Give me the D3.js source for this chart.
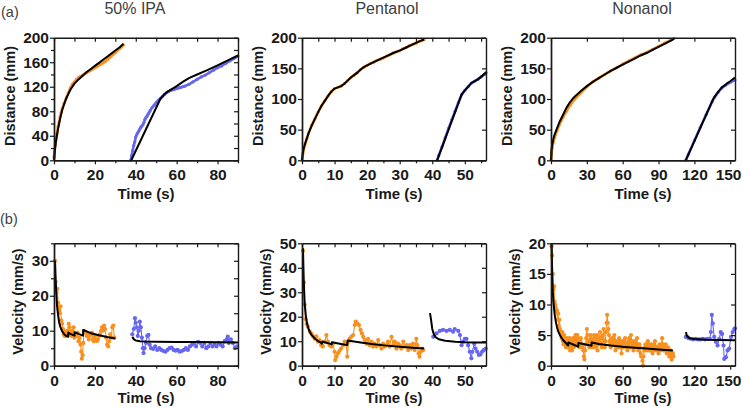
<!DOCTYPE html>
<html><head><meta charset="utf-8">
<script src="https://cdn.jsdelivr.net/npm/d3@7"></script>
<style>
body{margin:0;background:#fff}
svg{display:block}
text{font-family:"Liberation Sans",Arial,Helvetica,sans-serif}
</style>
</head><body>
<svg id="c" width="742" height="409"></svg>
<script>
// ---------- titles / labels ----------
const colTitles = ["50% IPA", "Pentanol", "Nonanol"];
const rowTags = ["(a)", "(b)"];
const xLabel = "Time (s)";
const yLabels = ["Distance (mm)", "Velocity (mm/s)"];

// ---------- axis domains and ticks ----------
const xDomains = [[0, 90], [0, 56.5], [0, 154]];
const xMajor = [[0, 20, 40, 60, 80], [0, 10, 20, 30, 40, 50], [0, 30, 60, 90, 120, 150]];
const xMinor = [[10, 30, 50, 70, 90], [5, 15, 25, 35, 45, 55], []];
const distDomain = [0, 200];
const distMajor = [[0, 40, 80, 120, 160, 200], [0, 50, 100, 150, 200], [0, 50, 100, 150, 200]];
const distMinor = [[20, 60, 100, 140, 180], [], []];
const velDomains = [[0, 35], [0, 50], [0, 20]];
const velMajor = [[0, 10, 20, 30], [0, 10, 20, 30, 40, 50], [0, 5, 10, 15, 20]];
const velMinor = [[5, 15, 25, 35], [], []];

// ---------- 50% IPA : distance ----------
const ipaDistOrange = [[0,5],[0.3,15],[0.6,25],[1,34],[1.5,44],[2,55],[2.5,63],[3,71],[3.5,78],[4,84],[5,93],[6,102],[7,110],[8,118],[9,124],[10,128],[11,132],[12,135],[13,137],[14,139],[15,141],[16,143],[17,145],[18,147],[19,149],[20,151],[21,153],[22,155],[23,157],[24,159],[25,161],[26,164],[27,167],[28,170],[29,173],[30,176],[31,179],[32,182],[33,185],[34,188]];
const ipaDistOrangeFit = [[0,0],[0.5,18],[1,32],[2,52],[3,68],[4,82],[5,92],[6,101],[8,115],[10,125],[12,132],[14,138],[16,144],[18,149],[20,154],[22,159],[24,164],[26,169],[28,174],[30,179],[32,184],[34,190]];
const ipaDistBlue = [[37.5,0],[38,8],[38.5,16],[39,24],[39.5,30],[40,38],[40.5,42],[41,45],[41.5,48],[42,51],[42.5,54],[43,56],[43.5,58],[44,62],[44.5,67],[45,70],[45.5,72],[46,75],[46.5,78],[47,81],[48,86],[49,90],[50,94],[51,98],[52,101],[53,104],[54,107],[55,110],[56,112],[57,114],[58,115],[59,116],[60,117],[61,118],[62,119],[63,120],[64,121],[66,124],[68,128],[70,132],[72,136],[74,139],[76,143],[78,147],[80,151],[82,154],[84,158],[86,162],[88,166],[90,170]];
const ipaDistBlueFit = [[37.8,0],[52,100],[54,108],[56,113],[60,121],[63,128],[66,134],[70,140],[75,147],[80,155],[85,163],[90,171]];

// ---------- Pentanol : distance ----------
const penDistOrange = [[0,0],[0.3,12],[0.6,20],[1,27],[1.5,35],[2,44],[3,57],[4,68],[5,79],[6,89],[7,97],[8,105],[9,112],[10,117],[11,119],[12,121],[13,125],[14,130],[15,135],[16,139],[17,143],[18,148],[19,152],[20,155],[21,158],[22,160],[23,163],[24,165],[25,167],[26,170],[27,172],[28,175],[29,177],[30,179],[31,182],[32,184],[33,187],[34,189],[35,191],[36,194],[37,196],[37.5,197]];
const penDistOrangeFit = [[0,0],[0.3,13],[0.6,21],[1,28],[2,44],[3,57],[4,68],[5,79],[6,89],[7,97],[8,105],[9,112],[10,117],[11,119],[12,121],[13,125],[14,130],[15,135],[16,139],[17,143],[18,148],[19,152],[20,155],[22,160],[24,165],[26,170],[28,175],[30,179],[32,184],[34,189],[36,194],[37.5,197]];
const penDistBlue = [[41.5,0],[42,8],[43,22],[44,37],[45,52],[46,66],[47,80],[48,94],[49,107],[50,114],[51,120],[52,126],[53,129],[54,132],[55,136],[56,140],[56.5,143]];
const penDistBlueFit = [[41.5,0],[49,107],[50,114],[52,126],[54,132],[56.5,143]];

// ---------- Nonanol : distance ----------
const nonDistOrange = [[0,0],[0.5,12],[1,20],[2,30],[3,37],[5,48],[7,58],[10,70],[13,80],[16,90],[20,100],[25,110],[30,120],[35,128],[40,134],[45,140],[50,146],[55,151],[60,157],[65,162],[70,167],[75,172],[80,176],[85,181],[90,186],[95,191],[100,196],[103,199]];
const nonDistOrangeFit = [[0,0],[0.5,18],[1,25],[2,35],[3,42],[5,52],[7,62],[10,74],[13,86],[16,95],[18,100],[20,104],[25,113],[30,121],[35,128],[40,134],[45,140],[50,146],[55,151],[60,156],[65,161],[70,166],[75,171],[80,175],[85,180],[90,185],[95,190],[100,195],[103,198]];
const nonDistBlue = [[112.8,0],[115,10],[120,32],[125,54],[130,75],[135,96],[137,103],[140,111],[143,118],[146,122],[150,127],[154,131]];
const nonDistBlueFit = [[112.8,0],[136,101],[140,112],[143,119],[147,125],[150,129],[154,135]];

// ---------- 50% IPA : velocity ----------
const ipaVelOrange = [[0.5,30],[0.8,24],[1.2,21],[1.6,22],[2,18],[2.4,16],[2.8,15],[3.2,17],[3.6,13],[4,12],[4.4,10.5],[4.8,9],[5.2,8.5],[5.6,9.8],[6,9],[6.4,8.5],[6.8,10],[7.2,12],[7.6,11],[8,9],[8.4,8.5],[8.8,10],[9.2,9.5],[9.6,11],[10,8],[10.5,9],[11,8.5],[11.5,9.5],[12,7],[12.5,8],[13,6],[13.3,4],[13.6,2],[14,3],[14.3,6.5],[14.6,10],[15,9.5],[15.5,9.7],[16,8.5],[16.5,9],[17,7.5],[17.5,8.5],[18,9],[18.5,9.5],[19,7.5],[19.5,7],[20,8.5],[20.5,7.5],[21,7],[21.5,7.5],[22,8.5],[22.5,9],[23,10],[23.5,11],[24,10],[24.5,11.5],[25,10.5],[25.5,8],[26,6],[26.5,5.5],[27,7],[27.5,9],[28,8],[28.5,11],[29,11.5],[29.5,8]];
const ipaVelOrangeFit = [[0.5,30],[0.8,25],[1,22],[1.5,17],[2,14.5],[2.5,12.5],[3,11.3],[3.5,10.5],[4,9.8],[5,9],[6,8.5],[6.9,8.3],[7,9.5],[8,9.1],[10,8.6],[10.1,9.6],[12,9.1],[14.2,8.6],[14.3,10.2],[18,9.3],[22,8.7],[26,8.2],[30,7.8]];
const ipaVelBlue = [[38.3,9],[39,10.5],[39.6,13.6],[40,12.3],[40.5,11],[41,8.5],[41.5,10],[42,12.6],[42.5,11],[43,8],[43.5,5],[43.8,3.6],[44.3,5],[45,6.5],[45.6,8.5],[46.2,8.8],[46.8,6],[47.5,5],[48.5,4.8],[49.5,5.5],[50.5,4.5],[51.5,5],[52.5,4.5],[53.5,4.2],[54.5,4],[55.5,4.5],[56.5,5],[57.5,5.2],[58.5,4.5],[59.5,4.3],[60.5,4.5],[61.5,4],[62.5,4.2],[63.5,4.5],[64.5,5],[65.5,4.5],[66.5,5.5],[67.5,6],[68.5,6.5],[69.5,5.5],[70.5,6.8],[71.5,6.5],[72.5,5.5],[73.5,6.5],[74.5,5],[75.5,5.5],[76.5,6.5],[77.5,5.5],[78.5,6],[79.5,5.5],[80.5,6.5],[81.5,6],[82.5,5.5],[83.5,7],[84.5,7.5],[85,8.3],[85.5,6.5],[86.5,7.5],[87.5,6.5],[88.5,5],[89.5,5.5]];
const ipaVelBlueFit = [[38.3,8.3],[39,7.6],[40,7.2],[42,7],[45,6.9],[50,6.85],[60,6.8],[70,6.75],[80,6.7],[90,6.65]];

// ---------- Pentanol : velocity ----------
const penVelOrange = [[0.3,47],[0.6,34],[0.8,25],[1.1,19],[1.4,17],[1.8,16],[2.4,14],[2.9,13],[3.4,12],[3.9,11],[4.4,12],[4.9,9.8],[5.4,10.5],[5.9,8.4],[6.4,7.8],[7,9.8],[7.5,12.5],[8,9.8],[8.5,8.4],[9,7.8],[9.5,9],[10,5.7],[10.2,2.3],[10.6,3.7],[11,5],[11.5,6],[12,7],[12.6,8.4],[13.1,9.8],[13.6,9],[13.9,3.7],[14.3,9.8],[14.6,11],[15.1,11.8],[15.7,12.5],[16.2,16.6],[16.5,18],[17,17.3],[17.5,16.6],[18,14.6],[18.4,13.2],[18.8,11.8],[19.3,10.5],[19.8,9],[20.3,11],[20.8,8.4],[21.3,9.8],[21.8,7.8],[22.3,9],[22.8,7.8],[23.4,10.5],[23.9,8.4],[24.4,7],[24.9,9],[25.4,7.8],[25.9,8.4],[26.4,9.8],[26.9,7.8],[27.5,11.8],[28,8.4],[28.5,9.8],[29,7],[29.5,9],[30,8.4],[30.5,7],[31.1,9.8],[31.6,7.8],[32.1,8.4],[32.6,6.4],[33.1,8.4],[33.6,7],[34.1,9],[34.6,6.4],[35.1,11],[35.4,8.4],[35.8,5],[36.1,3.7],[36.5,5.7],[36.9,7],[37.2,6.4]];
const penVelOrangeFit = [[0.3,48],[0.5,36],[0.8,26],[1.2,20],[1.6,17],[2,15],[2.5,13.5],[3,12.5],[4,11],[5,10],[6,9.2],[6.1,9],[6.2,9.9],[8,9.2],[9.1,8.7],[9.2,9.6],[12,8.9],[13.9,8.4],[14,10.3],[18,9.5],[22,8.8],[26,8.2],[30,7.7],[34,7.3],[37.5,7]];
const penVelBlue = [[40.3,11.8],[41.3,13.2],[42.3,14.2],[43.3,14.6],[44.4,14.2],[45.4,14.6],[46.4,13.9],[46.9,15],[48,14.2],[48.5,12.5],[49,8.4],[49.5,9.8],[50,11],[50.5,11],[51,8.4],[51.5,5.7],[52,3],[52.3,5.7],[52.9,9],[53.3,7],[53.8,5.7],[54.3,4.4],[54.8,4.6],[55.3,5.7],[55.8,6.4],[56.4,7]];
const penVelBlueFit = [[39.3,21.5],[39.6,19],[40,15],[40.5,12.8],[41,11.7],[42,10.8],[44,10.2],[47,9.8],[50,9.6],[53,9.5],[56.5,9.5]];

// ---------- Nonanol : velocity ----------
const nonVelOrange = [[0.5,19.5],[1,18],[1.5,15],[2,12.5],[2.5,13],[3,10.5],[3.5,10],[4,9.5],[4.5,8.8],[5,9],[5.5,7.5],[6,8.5],[6.5,6.5],[7,7.5],[7.5,6],[8,5.5],[8.5,5],[9,4.5],[9.5,5.5],[10,4],[10.5,3.5],[11,5],[11.5,4],[12,3.5],[12.5,3],[13,4.5],[13.5,3.5],[14,3],[14.5,3.5],[15,4],[15.5,4.5],[16,2.5],[16.5,3],[17,3.5],[17.5,2.5],[18,4],[18.5,4.5],[19,3],[19.5,3.5],[20,4.5],[20.5,5],[21,3.5],[21.5,4],[22,5],[22.5,4.5],[23,4],[23.5,3.5],[24,3],[24.5,4],[25,4.5],[25.5,3.5],[26,3.5],[26.5,3],[27,2.5],[27.5,1.5],[28,1],[28.5,2.5],[29,3.5],[29.5,4.5],[30,6],[30.5,5],[31,4],[31.5,3.5],[32,3],[32.5,4],[33,5],[33.5,4.5],[34,4],[34.5,3],[35,3.5],[35.5,4],[36,5],[36.5,4.5],[37,3],[37.5,3.5],[38,4.5],[38.5,5],[39,2.5],[39.5,3.5],[40,4],[40.5,4.5],[41,5.5],[41.5,4.5],[42,3.5],[42.5,3],[43,4.5],[43.5,5],[44,6],[44.5,4],[45,3],[45.5,4],[46,5.5],[46.5,7],[47,8.3],[47.5,7],[48,6],[48.5,5],[49,4],[49.5,3.5],[50,3],[50.5,4],[51,4.5],[51.5,3.5],[52,3.5],[52.5,4.5],[53,5],[53.5,4],[54,2.5],[54.5,3],[55,4],[55.5,3.5],[56,3],[56.5,3.5],[57,4.5],[57.5,4],[58,3.5],[58.5,3],[59,2],[59.5,3],[60,4],[60.5,3.5],[61,3],[61.5,4],[62,4.5],[62.5,3.5],[63,3.5],[63.5,3],[64,2.5],[64.5,3.5],[65,4],[65.5,4.5],[66,3],[66.5,4],[67,5],[67.5,4],[68,3.5],[68.5,3],[69,2.5],[69.5,3],[70,4],[70.5,3.5],[71,3],[71.5,3.5],[72,4.5],[72.5,3.5],[73,2.5],[73.5,3],[74,3.5],[74.5,3],[75,2],[75.5,1.5],[76,1.5],[76.5,0.8],[77,0],[77.5,1.5],[78,2.5],[78.5,3],[79,3.5],[79.5,3],[80,2.5],[80.5,3.5],[81,4],[81.5,3.5],[82,3],[82.5,2.5],[83,2.5],[83.5,3],[84,3.5],[84.5,2.5],[85,2],[85.5,2.5],[86,3],[86.5,3.5],[87,4],[87.5,3],[88,2.5],[88.5,3],[89,3],[89.5,2.5],[90,2],[90.5,3],[91,3.5],[91.5,3],[92,2.5],[92.5,3.5],[93,4.5],[93.5,3.5],[94,3],[94.5,2.5],[95,2.5],[95.5,3],[96,3.5],[96.5,2.5],[97,2],[97.5,2.5],[98,3],[98.5,2],[99,1.5],[99.5,2],[100,2.5],[100.5,1.5],[101,1],[101.5,2],[102,2],[102.5,1.5]];
const nonVelOrangeFit = [[0.5,20],[1,15],[1.5,12.2],[2,10.5],[3,8.5],[4,7.2],[5,6.3],[6,5.6],[8,4.8],[10,4.2],[12,3.8],[14.4,3.3],[14.5,3.8],[18,3.5],[22.8,3.1],[22.9,3.7],[28,3.5],[33.9,3.25],[34,3.8],[40,3.55],[50,3.3],[60,3.1],[70,2.95],[80,2.8],[90,2.65],[102,2.5]];
const nonVelBlue = [[112.8,4.7],[114,4.7],[115,4.5],[117,4.4],[119,4.3],[121,4.4],[123,4.3],[125,4.3],[127,4.4],[129,4.3],[131,4.4],[133,4.4],[133.8,5.5],[134.6,8.3],[135.4,6.9],[136.6,4.7],[138,3.9],[139.4,3.3],[140.8,4.4],[142,5.5],[143.2,5.2],[144.4,3.3],[145,1.1],[146.4,1.4],[147.8,2.5],[149.2,2.8],[150.6,4.7],[152,5.5],[153.4,6],[154,6.1]];
const nonVelBlueFit = [[113,5.5],[113.5,5],[114.5,4.7],[116,4.5],[120,4.35],[130,4.25],[140,4.2],[154,4.15]];

// ---------- drawing ----------
const ORANGE = "#f7901e", BLUE = "#6666ee", INK = "#1a1a1a";
const W = 742;
const svg = d3.select("#c");
const cols = [[54, 238], [302, 486], [551, 735]];
const rows = [[37.7, 160.3], [243.3, 365.7]];

const distSets = [
  [ipaDistOrange, ipaDistOrangeFit, ipaDistBlue, ipaDistBlueFit],
  [penDistOrange, penDistOrangeFit, penDistBlue, penDistBlueFit],
  [nonDistOrange, nonDistOrangeFit, nonDistBlue, nonDistBlueFit]];
const velSets = [
  [ipaVelOrange, ipaVelOrangeFit, ipaVelBlue, ipaVelBlueFit],
  [penVelOrange, penVelOrangeFit, penVelBlue, penVelBlueFit],
  [nonVelOrange, nonVelOrangeFit, nonVelBlue, nonVelBlueFit]];

function drawPanel(ci, ri, yDomain, yMaj, yMin, sets, yLab, dense) {
  const [l, r] = cols[ci], [t, b] = rows[ri];
  const x = d3.scaleLinear().domain(xDomains[ci]).range([l, r]);
  const y = d3.scaleLinear().domain(yDomain).range([b, t]);
  const g = svg.append("g");
  const line = d3.line().x(d => x(d[0])).y(d => y(d[1]));
  const [oD, oF, bD, bF] = sets;
  [[oD, ORANGE], [bD, BLUE]].forEach(([d, c]) => {
    g.append("path").attr("d", line(d)).attr("fill", "none").attr("stroke", c)
      .attr("stroke-width", dense ? 2.6 : 1.1);
    g.selectAll(null).data(d).enter().append("circle")
      .attr("cx", p => x(p[0])).attr("cy", p => y(p[1]))
      .attr("r", dense ? 1.6 : 2.1).attr("fill", c);
  });
  [oF, bF].forEach(d => {
    g.append("path").attr("d", line(d)).attr("fill", "none").attr("stroke", "#000")
      .attr("stroke-width", 2).attr("stroke-linejoin", "round");
  });
  // frame & ticks
  const allX = xMajor[ci].concat(xMinor[ci]);
  const allY = yMaj.concat(yMin);
  const style = sel => {
    sel.selectAll("path.domain").attr("stroke", INK).attr("stroke-width", 1.4);
    sel.selectAll(".tick line").attr("stroke", INK).attr("stroke-width", 1.2);
    sel.selectAll("text").attr("font-size", 15.5).attr("font-weight", "bold").attr("fill", INK)
      .attr("font-family", '"Liberation Sans",Arial,sans-serif');
  };
  const xa = g.append("g").attr("transform", `translate(0,${b})`)
    .call(d3.axisBottom(x).tickValues(xMajor[ci]).tickSize(4).tickSizeOuter(0).tickPadding(5).tickFormat(d3.format("d"))).call(style);
  // keep edge labels inside the page
  xa.selectAll(".tick text").each(function(v) {
    const bb = this.getBBox(), cx = x(v);
    const over = cx + bb.width / 2 - (W - 1);
    if (over > 0) d3.select(this).attr("dx", -over);
  });
  g.append("g").attr("transform", `translate(0,${b})`)
    .call(d3.axisBottom(x).tickValues(xMinor[ci]).tickSize(3).tickSizeOuter(0).tickFormat("")).call(style);
  g.append("g").attr("transform", `translate(0,${t})`)
    .call(d3.axisTop(x).tickValues(allX).tickSize(-4).tickSizeOuter(0).tickFormat("")).call(style);
  g.append("g").attr("transform", `translate(${l},0)`)
    .call(d3.axisLeft(y).tickValues(yMaj).tickSize(4).tickSizeOuter(0).tickPadding(1).tickFormat(d3.format("d"))).call(style);
  g.append("g").attr("transform", `translate(${l},0)`)
    .call(d3.axisLeft(y).tickValues(yMin).tickSize(3).tickSizeOuter(0).tickFormat("")).call(style);
  g.append("g").attr("transform", `translate(${r},0)`)
    .call(d3.axisRight(y).tickValues(allY).tickSize(-4).tickSizeOuter(0).tickFormat("")).call(style);
  // labels
  svg.append("text").attr("x", (l + r) / 2).attr("y", ri === 0 ? 198.5 : 403)
    .attr("text-anchor", "middle").attr("font-size", 15).attr("font-weight", "bold").attr("fill", INK).text(xLabel);
  const lx = ri === 0 ? l - 44 : l - 36;
  const ly = (t + b) / 2 - 3;
  svg.append("text").attr("transform", `translate(${lx},${ly}) rotate(-90)`).attr("dy", "0.36em")
    .attr("text-anchor", "middle").attr("font-size", 14.5).attr("font-weight", "bold").attr("fill", INK).text(yLab);
}

for (let i = 0; i < 3; i++) {
  drawPanel(i, 0, distDomain, distMajor[i], distMinor[i], distSets[i], yLabels[0], true);
  drawPanel(i, 1, velDomains[i], velMajor[i], velMinor[i], velSets[i], yLabels[1], false);
}

const titleX = [135, 387, 642];
colTitles.forEach((s, i) => svg.append("text").attr("x", titleX[i]).attr("y", 13.5)
  .attr("text-anchor", "middle").attr("font-size", 16).attr("fill", "#404040").text(s));
svg.append("text").attr("x", 1).attr("y", 17).attr("font-size", 14.5).attr("fill", "#404040").text(rowTags[0]);
svg.append("text").attr("x", 0).attr("y", 224).attr("font-size", 14.5).attr("fill", "#404040").text(rowTags[1]);
</script>
</body></html>
